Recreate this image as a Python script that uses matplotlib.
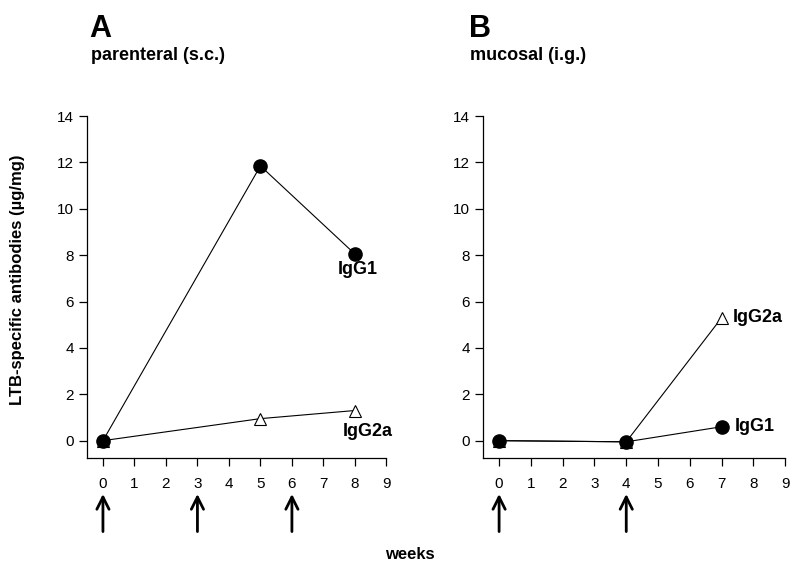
import matplotlib
matplotlib.use('Agg')
import matplotlib.pyplot as plt

plt.rcParams['font.family'] = ['Liberation Sans', 'DejaVu Sans']

# panel A: parenteral (s.c.)
weeks_a = [0, 5, 8]
igg1_a = [0.0, 11.85, 8.05]
igg2a_a = [0.0, 0.95, 1.3]
arrows_a = [0, 3, 6]

# panel B: mucosal (i.g.)
weeks_b = [0, 4, 7]
igg1_b = [0.0, -0.05, 0.6]
igg2a_b = [0.0, -0.05, 5.3]
arrows_b = [0, 4]

xticks = list(range(10))
yticks = [0, 2, 4, 6, 8, 10, 12, 14]


def style_axes(ax):
    ax.set_xlim(-0.5, 9.0)
    ax.set_ylim(-0.75, 14)
    ax.set_xticks(xticks)
    ax.set_yticks(yticks)
    ax.spines['top'].set_visible(False)
    ax.spines['right'].set_visible(False)
    for s in ['left', 'bottom']:
        ax.spines[s].set_linewidth(0.9)
    ax.tick_params(direction='out', length=6, width=0.9, labelsize=11)
    ax.tick_params(axis='x', pad=8)


def draw_arrows(ax, positions):
    for p in positions:
        ax.annotate('', xy=(p, -0.105), xycoords=('data', 'axes fraction'),
                    xytext=(p, -0.215), textcoords=('data', 'axes fraction'),
                    arrowprops=dict(arrowstyle='->', lw=2, mutation_scale=22,
                                    color='black', shrinkA=0, shrinkB=0),
                    annotation_clip=False)


fig = plt.figure(figsize=(8, 5.69), dpi=100)
ax_a = fig.add_axes([0.109, 0.195, 0.374, 0.601])
ax_b = fig.add_axes([0.604, 0.195, 0.3775, 0.601])

# panel A
ax_a.plot(weeks_a, igg2a_a, '-', color='black', lw=0.8, marker='^', ms=9,
          mfc='white', mec='black', mew=0.8)
ax_a.plot(weeks_a, igg1_a, '-', color='black', lw=0.8, marker='o', ms=9.5,
          mfc='black', mec='black')
style_axes(ax_a)
draw_arrows(ax_a, arrows_a)
ax_a.text(8.1, 7.4, 'IgG1', ha='center', va='center', fontsize=13, fontweight='bold')
ax_a.text(8.4, 0.4, 'IgG2a', ha='center', va='center', fontsize=13, fontweight='bold')

# panel B
ax_b.plot(weeks_b, igg2a_b, '-', color='black', lw=0.8, marker='^', ms=9,
          mfc='white', mec='black', mew=0.8)
ax_b.plot(weeks_b, igg1_b, '-', color='black', lw=0.8, marker='o', ms=9.5,
          mfc='black', mec='black')
style_axes(ax_b)
draw_arrows(ax_b, arrows_b)
ax_b.text(7.35, 5.3, 'IgG2a', ha='left', va='center', fontsize=13, fontweight='bold')
ax_b.text(7.4, 0.6, 'IgG1', ha='left', va='center', fontsize=13, fontweight='bold')

# titles and labels
fig.text(0.111, 0.975, 'A', ha='left', va='top', fontsize=22, fontweight='bold')
fig.text(0.114, 0.903, 'parenteral (s.c.)', ha='left', va='center', fontsize=13, fontweight='bold')
fig.text(0.586, 0.975, 'B', ha='left', va='top', fontsize=22, fontweight='bold')
fig.text(0.587, 0.903, 'mucosal (i.g.)', ha='left', va='center', fontsize=13, fontweight='bold')
fig.text(0.022, 0.508, 'LTB-specific antibodies (\u00b5g/mg)', rotation=90,
         ha='center', va='center', fontsize=12, fontweight='bold')
fig.text(0.5125, 0.025, 'weeks', ha='center', va='center', fontsize=12, fontweight='bold')

fig.savefig('out.png', dpi=100)
